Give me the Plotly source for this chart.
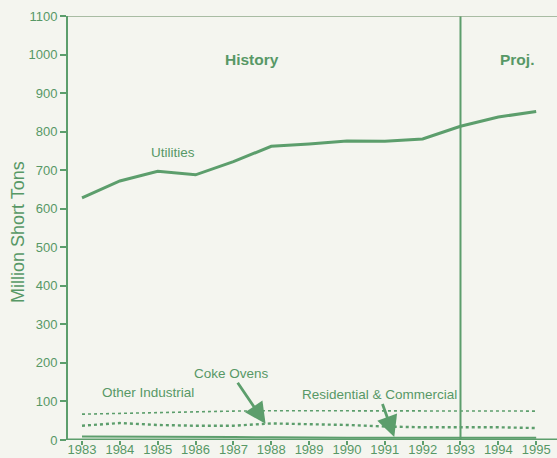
import plotly.graph_objects as go

years = list(range(1983, 1996))
utilities = [628, 672, 697, 688, 722, 762, 768, 776, 775, 781, 814, 838, 852]
other_industrial = [67, 69, 72, 74, 75, 76, 76, 76, 75, 75, 75, 75, 75]
coke_ovens = [37, 44, 39, 37, 37, 43, 41, 39, 35, 33, 33, 33, 31]
residential = [9, 9, 9, 8, 8, 7, 6, 6, 6, 6, 6, 6, 6]
y_ticks = list(range(0, 1101, 100))

green = "#5c9e6c"
text_green = "#579866"
bg = "#f4f5ef"
font_family = "Liberation Sans, Arial, sans-serif"

fig = go.Figure()
fig.add_trace(go.Scatter(x=years, y=utilities, mode="lines",
                         line=dict(color=green, width=3), name="Utilities"))
fig.add_trace(go.Scatter(x=years, y=other_industrial, mode="lines",
                         line=dict(color=green, width=1.6, dash="dot"), name="Other Industrial"))
fig.add_trace(go.Scatter(x=years, y=coke_ovens, mode="lines",
                         line=dict(color=green, width=2.4, dash="dot"), name="Coke Ovens"))
fig.add_trace(go.Scatter(x=years, y=residential, mode="lines",
                         line=dict(color=green, width=2), name="Residential & Commercial"))
# empty trace so the tick-mark-only overlay axis is drawn
fig.add_trace(go.Scatter(x=[], y=[], xaxis="x2", yaxis="y", hoverinfo="skip", showlegend=False))

# History / projection divider
fig.add_shape(type="line", x0=1993, x1=1993, y0=0, y1=1100, xref="x", yref="y",
              line=dict(color=green, width=2))
# top frame line
fig.add_shape(type="line", x0=0, x1=1, y0=1100, y1=1100, xref="paper", yref="y",
              line=dict(color="#8fa88a", width=1.5))
# thick baseline (x axis line)
fig.add_shape(type="line", x0=0, x1=1, y0=0, y1=0, xref="paper", yref="y",
              line=dict(color=green, width=3))

anns = [
    dict(x=1987.5, y=988, text="<b>History</b>", showarrow=False, font=dict(size=15.5, color=text_green)),
    dict(x=1994.5, y=986, text="<b>Proj.</b>", showarrow=False, font=dict(size=15.5, color=text_green)),
    dict(x=1985.4, y=745, text="Utilities", showarrow=False, font=dict(size=13.5, color=text_green)),
    dict(x=1984.74, y=122, text="Other Industrial", showarrow=False, font=dict(size=13.5, color=text_green)),
    dict(x=1987.85, y=42, text="Coke Ovens", showarrow=True, ax=-34, ay=-50,
         arrowhead=2, arrowsize=1.5, arrowwidth=2.8, arrowcolor=green,
         font=dict(size=13.5, color=text_green)),
    dict(x=1991.25, y=8, text="Residential & Commercial", showarrow=True, ax=-15, ay=-42,
         arrowhead=2, arrowsize=1.5, arrowwidth=2.8, arrowcolor=green,
         font=dict(size=13.5, color=text_green)),
    dict(x=0, y=0.5, xref="paper", yref="paper", xanchor="center", yanchor="middle",
         xshift=-50, yshift=-4, textangle=-90, text="Million Short Tons", showarrow=False,
         font=dict(size=18, color=text_green)),
]
for a in anns:
    a.setdefault("xref", "x")
    a.setdefault("yref", "y")
    fig.add_annotation(**a)

fig.update_layout(
    width=557, height=458,
    margin=dict(l=68, r=0, t=16, b=18, autoexpand=False),
    paper_bgcolor=bg, plot_bgcolor=bg,
    showlegend=False,
    font=dict(family=font_family, color=text_green, size=13),
    xaxis=dict(range=[1982.63, 1995.55], tickvals=years, ticktext=[str(y) for y in years],
               showgrid=False, zeroline=False, showline=False, ticks="",
               tickfont=dict(size=13, color=text_green), fixedrange=True, automargin=False),
    xaxis2=dict(matches="x", overlaying="x", side="bottom", range=[1982.63, 1995.55],
                tickvals=years, showticklabels=False, showgrid=False, zeroline=False,
                showline=False, ticks="outside", ticklen=4, tickcolor=green, tickwidth=1.5,
                fixedrange=True, automargin=False),
    yaxis=dict(range=[0, 1100], tickvals=y_ticks, showgrid=False, zeroline=False,
               showline=True, linecolor=green, linewidth=2,
               ticks="outside", ticklen=6, tickcolor=green, tickwidth=1.5,
               tickfont=dict(size=13, color=text_green),
               fixedrange=True, automargin=False),
)

fig.write_html("out.html", config={"displayModeBar": False},
               post_script="document.body.style.margin='0';document.body.style.overflow='hidden';")
